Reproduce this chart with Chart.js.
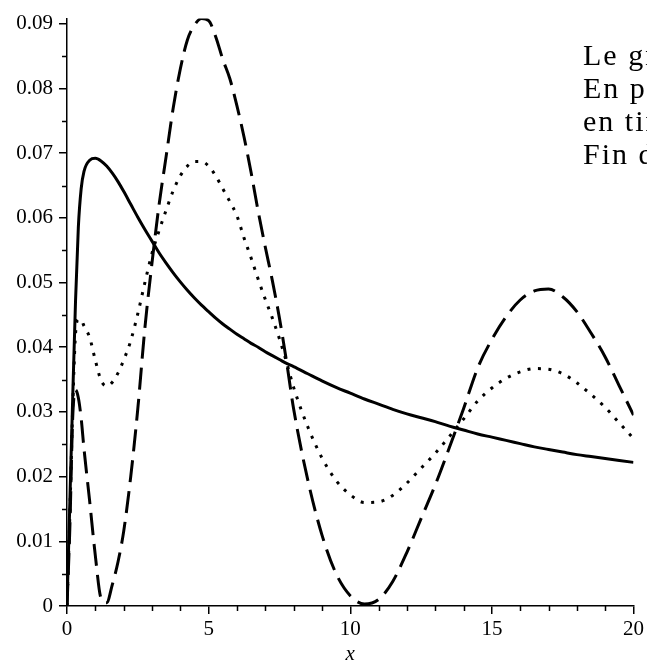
<!DOCTYPE html>
<html lang="fr">
<head>
<meta charset="UTF-8">
<title>Graphe</title>
<script src="https://cdn.jsdelivr.net/npm/chart.js"></script>
<style>
  body { margin: 0; background: #fff; }
</style>
</head>
<body>
<canvas id="graphe" width="647" height="667"></canvas>
<script>
// abscisses communes aux trois courbes
const xValues = [0, 0.1, 0.2, 0.3, 0.4, 0.5, 0.6, 0.8, 1.0, 1.2, 1.4, 1.6, 1.8, 2.0,
  2.25, 2.5, 2.75, 3, 3.25, 3.5, 3.75, 4, 4.25, 4.5, 4.75, 5, 5.25, 5.5, 5.75, 6,
  6.25, 6.5, 6.75, 7, 7.25, 7.5, 7.75, 8, 8.5, 9, 9.5, 10, 10.5, 11, 11.5, 12,
  12.5, 13, 13.5, 14, 14.5, 15, 15.5, 16, 16.5, 17, 17.5, 18, 18.5, 19, 19.5, 20];

// trait plein
const solidValues = [0, 0.016, 0.032, 0.047, 0.0585, 0.0645, 0.0672, 0.0689, 0.0692, 0.0688, 0.068, 0.0669, 0.0656, 0.0641,
  0.0621, 0.0601, 0.0582, 0.0564, 0.0546, 0.053, 0.0515, 0.0501, 0.0488, 0.0476, 0.0465, 0.0455, 0.0445, 0.0436, 0.0428, 0.042,
  0.0413, 0.0406, 0.04, 0.0393, 0.0387, 0.0381, 0.0375, 0.037, 0.0359, 0.0348, 0.0338, 0.0329, 0.032, 0.0312, 0.0304, 0.0297,
  0.0291, 0.0285, 0.0278, 0.0272, 0.0266, 0.0261, 0.0256, 0.0251, 0.0246, 0.0242, 0.0238, 0.0234, 0.0231, 0.0228, 0.0225, 0.0222];

// pointillés
const dottedValues = [0, 0.014, 0.0305, 0.042, 0.0443, 0.0442, 0.0433, 0.0415, 0.038, 0.0349, 0.034, 0.0346, 0.036, 0.038,
  0.041, 0.0452, 0.05, 0.0545, 0.058, 0.0612, 0.0642, 0.0665, 0.068, 0.0687, 0.0687, 0.068, 0.0665, 0.0645, 0.0625, 0.0603,
  0.0569, 0.0538, 0.0505, 0.0474, 0.0445, 0.0413, 0.0377, 0.0338, 0.0277, 0.0229, 0.0194, 0.0172, 0.016, 0.0161, 0.0171, 0.019,
  0.0213, 0.0236, 0.0262, 0.0289, 0.0317, 0.0337, 0.0352, 0.0362, 0.0367, 0.0366, 0.0359, 0.0345, 0.0327, 0.0307, 0.0283, 0.0259];

// tirets
const dashedValues = [0, 0.012, 0.029, 0.0334, 0.0322, 0.029, 0.0243, 0.0162, 0.0078, 0.0012, 0.0005, 0.0033, 0.0068, 0.0115,
  0.02, 0.0305, 0.043, 0.053, 0.062, 0.0695, 0.077, 0.083, 0.0875, 0.0898, 0.0908, 0.0905, 0.088, 0.0845, 0.0815, 0.0773,
  0.0725, 0.067, 0.061, 0.0555, 0.0503, 0.0445, 0.0378, 0.0305, 0.0195, 0.011, 0.005, 0.0016, 0.0003, 0.001, 0.0038, 0.0083,
  0.0135, 0.0187, 0.0245, 0.0305, 0.0368, 0.0412, 0.0447, 0.0473, 0.0487, 0.049, 0.0478, 0.0455, 0.0422, 0.0385, 0.034, 0.0295];

const xTicks = [0, 5, 10, 15, 20];
const xMinorTicks = [1, 2, 3, 4, 6, 7, 8, 9, 11, 12, 13, 14, 16, 17, 18, 19];
const yTicks = [0, 0.01, 0.02, 0.03, 0.04, 0.05, 0.06, 0.07, 0.08, 0.09];
const yTickLabels = ['0', '0.01', '0.02', '0.03', '0.04', '0.05', '0.06', '0.07', '0.08', '0.09'];
const yMinorTicks = [0.005, 0.015, 0.025, 0.035, 0.045, 0.055, 0.065, 0.075, 0.085];
const noteLines = ['Le graphe', 'En pointillés', 'en tirets', 'Fin de'];

const toPoints = vals => xValues.map((x, i) => ({ x: x, y: vals[i] }));
const serif = '"Liberation Serif", "Times New Roman", serif';

// fond blanc + petites graduations + texte en haut à droite
const decor = {
  id: 'decor',
  beforeDraw(chart) {
    const ctx = chart.ctx;
    ctx.save();
    ctx.fillStyle = '#fff';
    ctx.fillRect(0, 0, chart.width, chart.height);
    ctx.restore();
  },
  afterDraw(chart) {
    const ctx = chart.ctx;
    const xs = chart.scales.x, ys = chart.scales.y;
    const area = chart.chartArea;
    ctx.save();
    ctx.strokeStyle = '#000';
    ctx.lineWidth = 1.5;
    ctx.beginPath();
    xMinorTicks.forEach(v => {
      const px = Math.round(xs.getPixelForValue(v)) + 0.5;
      ctx.moveTo(px, area.bottom);
      ctx.lineTo(px, area.bottom + 5);
    });
    yMinorTicks.forEach(v => {
      const py = Math.round(ys.getPixelForValue(v)) + 0.5;
      ctx.moveTo(area.left, py);
      ctx.lineTo(area.left - 5, py);
    });
    ctx.stroke();

    ctx.fillStyle = '#000';
    ctx.font = '30px ' + serif;
    ctx.letterSpacing = '2px';
    ctx.textBaseline = 'alphabetic';
    noteLines.forEach((t, i) => ctx.fillText(t, 583, 65 + i * 33));
    ctx.restore();
  }
};

const lineStyle = {
  borderColor: '#000',
  borderWidth: 3,
  pointRadius: 0,
  fill: false,
  cubicInterpolationMode: 'monotone'
};

new Chart(document.getElementById('graphe').getContext('2d'), {
  type: 'line',
  data: {
    datasets: [
      Object.assign({ label: 'plein', data: toPoints(solidValues) }, lineStyle),
      Object.assign({ label: 'pointillés', data: toPoints(dottedValues), borderDash: [3, 7.5] }, lineStyle),
      Object.assign({ label: 'tirets', data: toPoints(dashedValues), borderDash: [22, 9] }, lineStyle)
    ]
  },
  options: {
    responsive: false,
    animation: false,
    layout: { padding: { top: 15, right: 10, left: 0, bottom: 0 } },
    plugins: { legend: { display: false }, tooltip: { enabled: false } },
    scales: {
      x: {
        type: 'linear',
        min: 0,
        max: 20,
        afterFit: s => { s.height = 61; },
        afterBuildTicks: s => { s.ticks = xTicks.map(v => ({ value: v })); },
        grid: { drawOnChartArea: false, drawTicks: true, tickLength: 8, color: '#000', lineWidth: 1.5 },
        border: { display: true, color: '#000', width: 1.5 },
        ticks: { color: '#000', padding: 3, maxRotation: 0, font: { family: serif, size: 21 } },
        title: { display: true, text: 'x', color: '#000', padding: { top: 0, bottom: 0 },
                 font: { family: serif, size: 21, style: 'italic' } }
      },
      y: {
        type: 'linear',
        min: 0,
        max: 0.0908,
        afterFit: s => { s.width = 67; },
        afterBuildTicks: s => { s.ticks = yTicks.map(v => ({ value: v })); },
        grid: { drawOnChartArea: false, drawTicks: true, tickLength: 8, color: '#000', lineWidth: 1.5 },
        border: { display: true, color: '#000', width: 1.5 },
        ticks: {
          color: '#000', padding: 6, font: { family: serif, size: 21 },
          callback: (v) => { const i = yTicks.indexOf(v); return i >= 0 ? yTickLabels[i] : ''; }
        }
      }
    }
  },
  plugins: [decor]
});
</script>
</body>
</html>
